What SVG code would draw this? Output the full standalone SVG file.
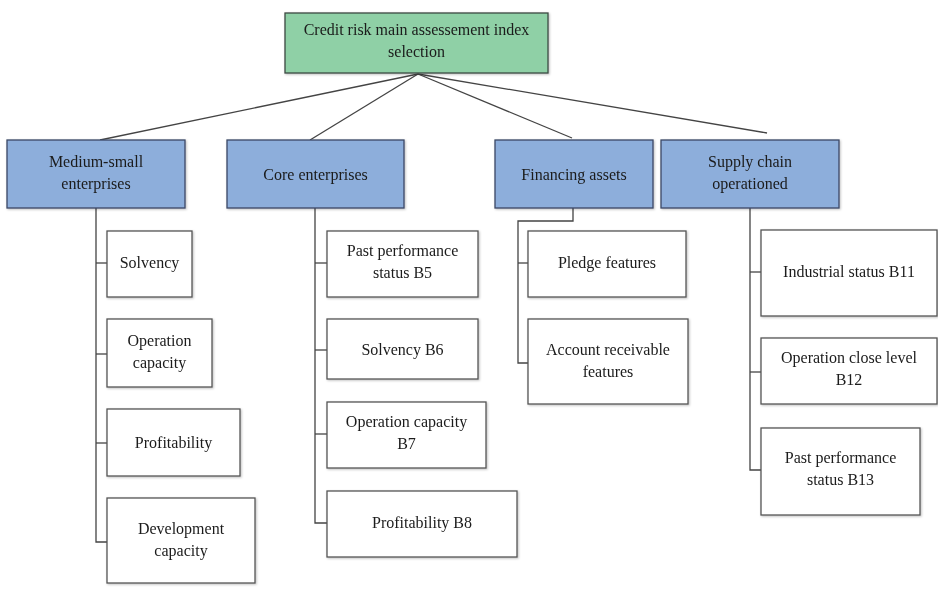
<svg xmlns="http://www.w3.org/2000/svg" width="938" height="591" viewBox="0 0 938 591">
<style>
  .root { fill: #8fd0a6; stroke: #3d4a42; stroke-width: 1.3; }
  .cat { fill: #8daedb; stroke: #3c4866; stroke-width: 1.3; }
  .leaf { fill: #ffffff; stroke: #555555; stroke-width: 1.3; }
  .inner { fill: none; stroke-width: 2; }
  text { font-family: "Liberation Serif", "Times New Roman", serif; font-size: 16px; fill: #1a1a1a; text-anchor: middle; }
  .conn { fill: none; stroke: #444444; stroke-width: 1.3; }
</style>
<defs>
  <filter id="sh" x="-5%" y="-5%" width="115%" height="120%">
    <feDropShadow dx="1" dy="1" stdDeviation="0.8" flood-color="#000" flood-opacity="0.25"/>
  </filter>
</defs>
<rect width="938" height="591" fill="#ffffff"/>

<g id="connectors">
  <line class="conn" x1="418" y1="74" x2="100" y2="140"/>
  <line class="conn" x1="418" y1="74" x2="310" y2="140"/>
  <line class="conn" x1="418" y1="74" x2="572" y2="138"/>
  <line class="conn" x1="418" y1="74" x2="767" y2="133"/>
  <!-- Medium-small -->
  <polyline class="conn" points="96,208 96,542 107,542"/>
  <line class="conn" x1="96" y1="263" x2="107" y2="263"/>
  <line class="conn" x1="96" y1="354" x2="107" y2="354"/>
  <line class="conn" x1="96" y1="443" x2="107" y2="443"/>
  <!-- Core -->
  <polyline class="conn" points="315,208 315,523 327,523"/>
  <line class="conn" x1="315" y1="263" x2="327" y2="263"/>
  <line class="conn" x1="315" y1="350" x2="327" y2="350"/>
  <line class="conn" x1="315" y1="434" x2="327" y2="434"/>
  <!-- Financing -->
  <polyline class="conn" points="573,208 573,221 518,221 518,363 528,363"/>
  <line class="conn" x1="518" y1="263" x2="528" y2="263"/>
  <!-- Supply -->
  <polyline class="conn" points="750,208 750,470 761,470"/>
  <line class="conn" x1="750" y1="272" x2="761" y2="272"/>
  <line class="conn" x1="750" y1="372" x2="761" y2="372"/>
</g>

<g id="root" filter="url(#sh)">
  <rect class="root" x="285" y="13" width="263" height="60"/>
  <text x="416.5" y="35">Credit risk main assessement index</text>
  <text x="416.5" y="57">selection</text>
</g>

<g id="medium-small" filter="url(#sh)">
  <rect class="cat" x="7" y="140" width="178" height="68"/>
  <text x="96" y="167">Medium-small</text>
  <text x="96" y="189">enterprises</text>
</g>
<g id="core" filter="url(#sh)">
  <rect class="cat" x="227" y="140" width="177" height="68"/>
  <text x="315.5" y="180">Core enterprises</text>
</g>
<g id="financing" filter="url(#sh)">
  <rect class="cat" x="495" y="140" width="158" height="68"/>
  <text x="574" y="180">Financing assets</text>
</g>
<g id="supply" filter="url(#sh)">
  <rect class="cat" x="661" y="140" width="178" height="68"/>
  <text x="750" y="167">Supply chain</text>
  <text x="750" y="189">operationed</text>
</g>

<g id="solvency" filter="url(#sh)">
  <rect class="leaf" x="107" y="231" width="85" height="66"/>
  <text x="149.5" y="268">Solvency</text>
</g>
<g id="operation-capacity" filter="url(#sh)">
  <rect class="leaf" x="107" y="319" width="105" height="68"/>
  <text x="159.5" y="346">Operation</text>
  <text x="159.5" y="368">capacity</text>
</g>
<g id="profitability" filter="url(#sh)">
  <rect class="leaf" x="107" y="409" width="133" height="67"/>
  <text x="173.5" y="448">Profitability</text>
</g>
<g id="development-capacity" filter="url(#sh)">
  <rect class="leaf" x="107" y="498" width="148" height="85"/>
  <text x="181" y="534">Development</text>
  <text x="181" y="556">capacity</text>
</g>

<g id="past-b5" filter="url(#sh)">
  <rect class="leaf" x="327" y="231" width="151" height="66"/>
  <text x="402.5" y="256">Past performance</text>
  <text x="402.5" y="278">status B5</text>
</g>
<g id="solvency-b6" filter="url(#sh)">
  <rect class="leaf" x="327" y="319" width="151" height="60"/>
  <text x="402.5" y="355">Solvency B6</text>
</g>
<g id="operation-b7" filter="url(#sh)">
  <rect class="leaf" x="327" y="402" width="159" height="66"/>
  <text x="406.5" y="427">Operation capacity</text>
  <text x="406.5" y="449">B7</text>
</g>
<g id="profitability-b8" filter="url(#sh)">
  <rect class="leaf" x="327" y="491" width="190" height="66"/>
  <text x="422" y="528">Profitability B8</text>
</g>

<g id="pledge" filter="url(#sh)">
  <rect class="leaf" x="528" y="231" width="158" height="66"/>
  <text x="607" y="268">Pledge features</text>
</g>
<g id="account-receivable" filter="url(#sh)">
  <rect class="leaf" x="528" y="319" width="160" height="85"/>
  <text x="608" y="355">Account receivable</text>
  <text x="608" y="377">features</text>
</g>

<g id="industrial-b11" filter="url(#sh)">
  <rect class="leaf" x="761" y="230" width="176" height="86"/>
  <text x="849" y="277">Industrial status B11</text>
</g>
<g id="operation-close-b12" filter="url(#sh)">
  <rect class="leaf" x="761" y="338" width="176" height="66"/>
  <text x="849" y="363">Operation close level</text>
  <text x="849" y="385">B12</text>
</g>
<g id="past-b13" filter="url(#sh)">
  <rect class="leaf" x="761" y="428" width="159" height="87"/>
  <text x="840.5" y="463">Past performance</text>
  <text x="840.5" y="485">status B13</text>
</g>
</svg>
